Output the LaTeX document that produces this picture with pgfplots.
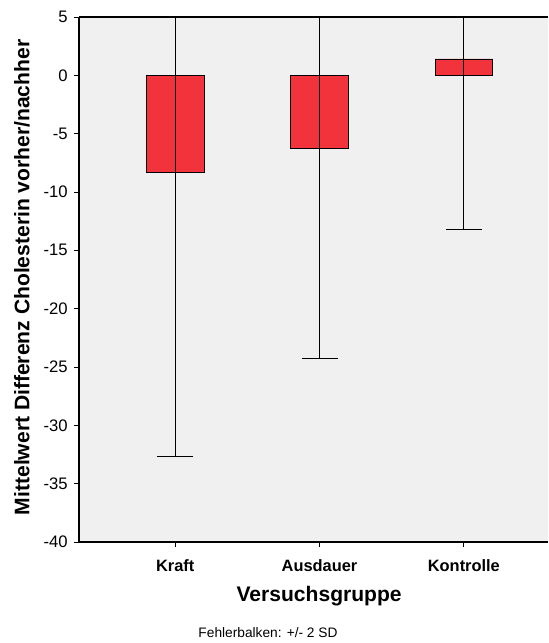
\documentclass[border=0pt]{standalone}
\usepackage{pgfplots}
\pgfplotsset{compat=1.18}
\usetikzlibrary{calc}
\usepackage{fontspec}
\setmainfont{Liberation Sans}
\definecolor{barred}{RGB}{242,51,59}
\definecolor{bggray}{RGB}{240,240,240}
\begin{document}
\begin{tikzpicture}
\useasboundingbox (0pt,0pt) rectangle (411.75pt,482.25pt);
\begin{axis}[
  name=ax,
  scale only axis,
  width=351.75pt, height=393.75pt,
  at={(59.25pt,75.75pt)}, anchor=south west,
  xmin=-0.667, xmax=2.583,
  ymin=-40, ymax=5,
  axis lines=left,
  axis line style={line width=0.8pt, -},
  axis background/.style={fill=bggray},
  xtick={0,1,2},
  xticklabels={Kraft,Ausdauer,Kontrolle},
  ytick={-40,-35,...,5},
  tick align=outside,
  major tick length=4pt,
  tick style={line width=0.6pt, black},
  /pgf/number format/assume math mode=true,
  yticklabel style={font=\fontsize{12.5}{14}\selectfont, xshift=-1pt},
  xticklabel style={font=\fontsize{12.3}{14}\selectfont\bfseries, yshift=-6pt},
  xlabel={Versuchsgruppe},
  xlabel style={font=\fontsize{15.8}{18}\selectfont\bfseries, at={(axis description cs:0.512,-0.103)}, anchor=center},
  ylabel={Mittelwert Differenz Cholesterin vorher/nachher},
  ylabel style={font=\fontsize{15.8}{18}\selectfont\bfseries, at={(axis description cs:-0.1215,0.504)}, anchor=center, rotate=0},
]
\addplot[ybar, bar width=0.4, bar shift=0pt, fill=barred, draw=black, line width=0.7pt,
  error bars/.cd, y dir=both, y explicit,
  error bar style={black, line width=0.7pt},
  error mark options={black, line width=0.9pt, mark size=13.5pt, rotate=90}]
  coordinates {
    (0,-8.3) +- (0,24.4)
    (1,-6.3) +- (0,18.0)
    (2,1.4) +- (0,14.6)
  };
\end{axis}
\draw[line width=0.8pt] (ax.north west) -- (ax.north east);
\node[font=\fontsize{10.3}{12}\selectfont, anchor=center] at ($(ax.south west)!0.403!(ax.south east)+(0,-68.25pt)$) {Fehlerbalken: +/- 2 SD};
\end{tikzpicture}
\end{document}
